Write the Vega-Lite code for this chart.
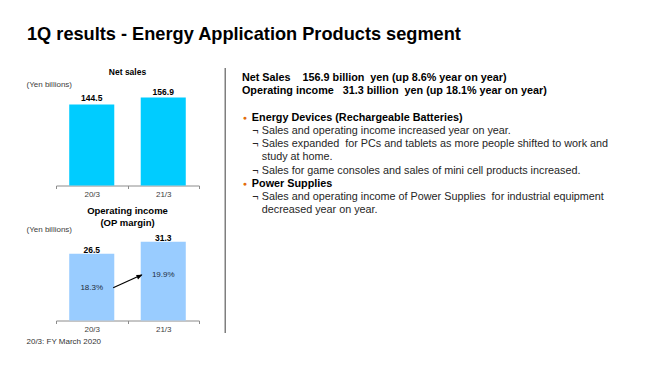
{
  "$schema": "https://vega.github.io/schema/vega-lite/v6.json",
  "padding": {"left": 26, "top": 24.5, "right": 5, "bottom": 5},
  "background": "white",
  "config": {"view": {"stroke": null}, "font": "Liberation Sans"},
  "title": {"text": "1Q results - Energy Application Products segment", "anchor": "start", "fontSize": 18.2, "fontWeight": "bold", "color": "#000000", "offset": 23, "dx": 1},
  "datasets": {
    "results": [
      {"year": "20/3", "sales": 144.5, "op": 26.5, "margin": 0.183},
      {"year": "21/3", "sales": 156.9, "op": 31.3, "margin": 0.199}
    ],
    "change": [
      {"from": "20/3", "to": "21/3", "start": 0.183, "end": 0.199}
    ],
    "notes": [
      {"line": 0, "level": 0, "kind": "head", "text": "Net Sales\u00a0\u00a0\u00a0 156.9 billion\u00a0 yen (up 8.6% year on year)"},
      {"line": 1, "level": 0, "kind": "head", "text": "Operating income\u00a0\u00a0 31.3 billion\u00a0 yen (up 18.1% year on year)"},
      {"line": 3, "level": 1, "kind": "bullet", "text": "Energy Devices (Rechargeable Batteries)"},
      {"line": 4, "level": 2, "kind": "sub", "text": "Sales and operating income increased year on year."},
      {"line": 5, "level": 2, "kind": "sub", "text": "Sales expanded\u00a0 for PCs and tablets as more people shifted to work and"},
      {"line": 6, "level": 2, "kind": "cont", "text": "study at home."},
      {"line": 7, "level": 2, "kind": "sub", "text": "Sales for game consoles and sales of mini cell products increased."},
      {"line": 8, "level": 1, "kind": "bullet", "text": "Power Supplies"},
      {"line": 9, "level": 2, "kind": "sub", "text": "Sales and operating income of Power Supplies\u00a0 for industrial equipment"},
      {"line": 10, "level": 2, "kind": "cont", "text": "decreased year on year."}
    ]
  },
  "bounds": "full",
  "spacing": 24.75,
  "hconcat": [
    {
      "bounds": "flush",
      "spacing": 49,
      "vconcat": [
        {
          "width": 143,
          "height": 118,
          "data": {"name": "results"},
          "title": {"text": "Net sales", "fontSize": 8.5, "fontWeight": "bold", "frame": "group", "anchor": "middle", "offset": -8.5, "color": "#000000"},
          "encoding": {
            "x": {"field": "year", "type": "nominal", "scale": {"paddingInner": 0, "paddingOuter": 0},
              "axis": {"title": null, "labelAngle": 0, "labelFontSize": 8, "labelColor": "#404040", "domainColor": "#8c8c8c", "tickColor": "#8c8c8c", "tickSize": 3, "tickBand": "extent", "labelPadding": 2, "grid": false}},
            "y": {"field": "sales", "type": "quantitative", "scale": {"domain": [0, 210.5], "nice": false},
              "axis": {"title": "(Yen billions)", "titleAngle": 0, "titleAlign": "left", "titleBaseline": "middle", "titleX": -30, "titleY": 17, "titleFontSize": 8, "titleFontWeight": "normal", "titleColor": "#404040", "domain": false, "ticks": false, "labels": false, "grid": false}}
          },
          "layer": [
            {"mark": {"type": "bar", "color": "#00CCFF", "width": {"band": 0.63}}},
            {"mark": {"type": "text", "baseline": "bottom", "dy": -1, "fontSize": 8.5, "fontWeight": "bold", "color": "#000000"},
              "encoding": {"text": {"field": "sales", "type": "quantitative", "format": ".1f"}}}
          ]
        },
        {
          "width": 143,
          "height": 86,
          "title": {"text": ["Operating income", "(OP margin)"], "fontSize": 9.5, "fontWeight": "bold", "frame": "group", "anchor": "middle", "offset": -2, "lineHeight": 12, "color": "#000000"},
          "resolve": {"scale": {"y": "independent"}},
          "layer": [
            {
              "data": {"name": "results"},
              "mark": {"type": "bar", "color": "#99CCFF", "width": {"band": 0.63}},
              "encoding": {
                "x": {"field": "year", "type": "nominal", "scale": {"paddingInner": 0, "paddingOuter": 0},
                  "axis": {"title": "20/3: FY March 2020", "titleX": -30, "titleY": 20.5, "titleAlign": "left", "titleBaseline": "middle", "titleFontSize": 8, "titleFontWeight": "normal", "titleColor": "#333333", "labelAngle": 0, "labelFontSize": 8, "labelColor": "#404040", "domainColor": "#8c8c8c", "tickColor": "#8c8c8c", "tickSize": 3, "tickBand": "extent", "labelPadding": 2, "grid": false}},
                "y": {"field": "op", "type": "quantitative", "scale": {"domain": [0, 34.13], "nice": false},
                  "axis": {"title": "(Yen billions)", "titleAngle": 0, "titleAlign": "left", "titleBaseline": "middle", "titleX": -30, "titleY": -4.7, "titleFontSize": 8, "titleFontWeight": "normal", "titleColor": "#404040", "domain": false, "ticks": false, "labels": false, "grid": false}}
              }
            },
            {
              "data": {"name": "results"},
              "mark": {"type": "text", "baseline": "bottom", "dy": 1, "fontSize": 8.5, "fontWeight": "bold", "color": "#000000"},
              "encoding": {
                "x": {"field": "year", "type": "nominal"},
                "y": {"field": "op", "type": "quantitative", "scale": {"domain": [0, 34.13], "nice": false}, "axis": null},
                "text": {"field": "op", "type": "quantitative", "format": ".1f"}
              }
            },
            {
              "data": {"name": "results"},
              "mark": {"type": "text", "baseline": "middle", "fontSize": 8, "color": "#1f2d3d"},
              "encoding": {
                "x": {"field": "year", "type": "nominal"},
                "y": {"field": "margin", "type": "quantitative", "scale": {"domain": [0.14275, 0.2486], "nice": false, "zero": false}, "axis": null},
                "text": {"field": "margin", "type": "quantitative", "format": ".1%"}
              }
            },
            {
              "data": {"name": "change"},
              "mark": {"type": "rule", "color": "#000000", "strokeWidth": 1.2},
              "encoding": {
                "x": {"field": "from", "type": "nominal", "bandPosition": 0.8},
                "x2": {"field": "to", "bandPosition": 0.2},
                "y": {"field": "start", "type": "quantitative", "scale": {"domain": [0.14275, 0.2486], "nice": false, "zero": false}, "axis": null},
                "y2": {"field": "end"}
              }
            },
            {
              "data": {"name": "change"},
              "mark": {"type": "point", "shape": "M0,0L-0.8,2L0.8,2Z", "filled": true, "color": "#000000", "opacity": 1, "size": 36, "angle": 66},
              "encoding": {
                "x": {"field": "to", "type": "nominal", "bandPosition": 0.21},
                "y": {"field": "end", "type": "quantitative", "scale": {"domain": [0.14275, 0.2486], "nice": false, "zero": false}, "axis": null}
              }
            }
          ]
        }
      ]
    },
    {
      "width": 420,
      "height": 265,
      "data": {"name": "notes"},
      "encoding": {
        "y": {"field": "line", "type": "quantitative", "scale": {"domain": [-0.81, 19.265], "reverse": true, "nice": false, "zero": false},
          "axis": {"domain": true, "domainColor": "#7f7f7f", "domainWidth": 1.5, "ticks": false, "labels": false, "grid": false, "title": null}},
        "x": {"field": "level", "type": "quantitative", "scale": {"domain": [0, 2], "range": [17.2, 37], "nice": false, "zero": false}, "axis": null}
      },
      "layer": [
        {
          "transform": [{"filter": "datum.kind == 'head' || datum.kind == 'bullet'"}],
          "mark": {"type": "text", "align": "left", "baseline": "middle", "fontSize": 10.8, "fontWeight": "bold", "color": "#000000"},
          "encoding": {"text": {"field": "text", "type": "nominal"}}
        },
        {
          "transform": [{"filter": "datum.kind == 'bullet'"}],
          "mark": {"type": "text", "align": "left", "baseline": "middle", "fontSize": 7, "color": "#E36C0A", "dx": -9, "text": "●"}
        },
        {
          "transform": [{"filter": "datum.kind == 'sub' || datum.kind == 'cont'"}],
          "mark": {"type": "text", "align": "left", "baseline": "middle", "fontSize": 10.8, "color": "#262626"},
          "encoding": {"text": {"field": "text", "type": "nominal"}}
        },
        {
          "transform": [{"filter": "datum.kind == 'sub'"}],
          "mark": {"type": "text", "align": "left", "baseline": "middle", "fontSize": 10.8, "color": "#262626", "dx": -9.5, "text": "¬"}
        }
      ]
    }
  ]
}
